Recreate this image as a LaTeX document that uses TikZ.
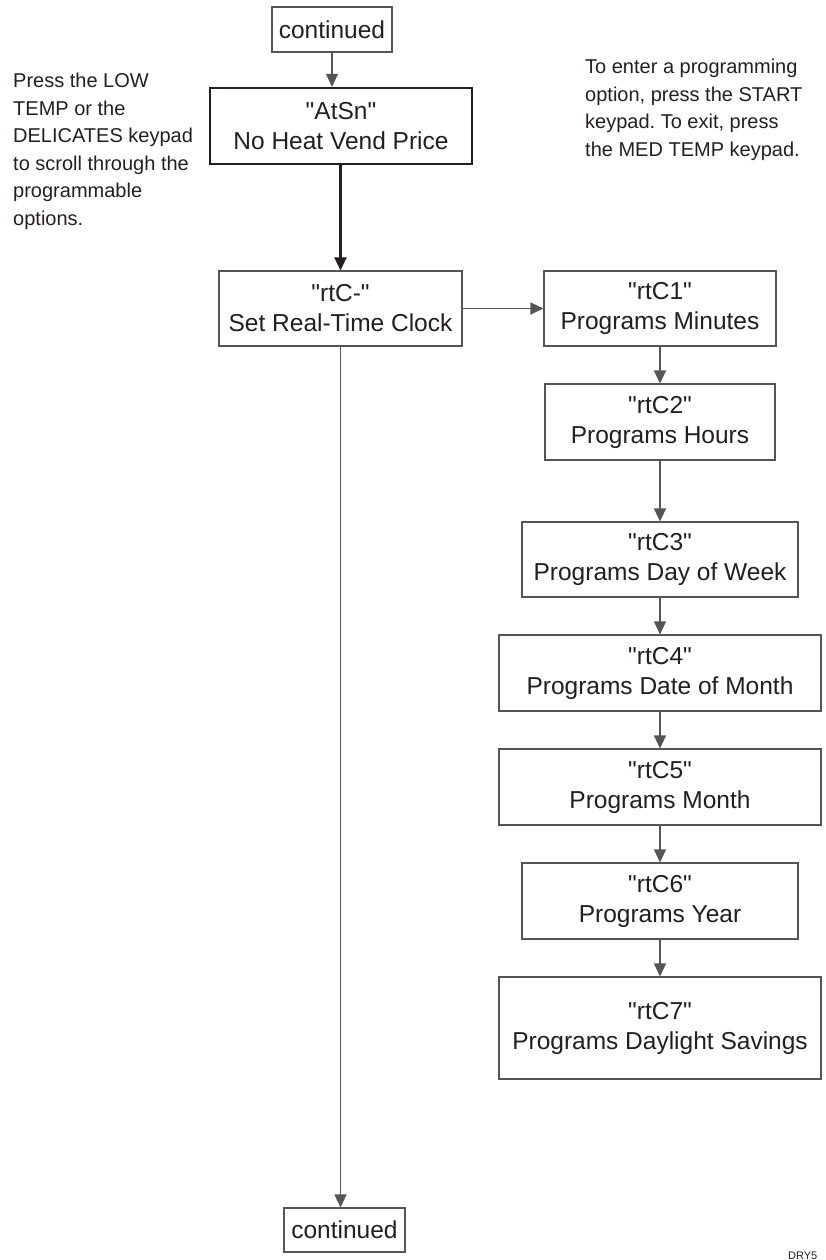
\documentclass[tikz,border=0pt]{standalone}
\usepackage{fontspec}
\setmainfont{Liberation Sans}
\newfontfamily\plainsans{Liberation Sans}
\usetikzlibrary{arrows.meta}
\definecolor{ink}{HTML}{231F20}
\definecolor{edge}{HTML}{555555}
\begin{document}
\frenchspacing
\begin{tikzpicture}[x=1pt,y=-1pt,
  box/.style={draw=edge,line width=1.1pt,fill=white,align=center,inner sep=0pt,
    font=\plainsans\fontsize{24.5}{30}\selectfont,text=ink},
  thickbox/.style={box,draw=ink,line width=2.2pt},
  flow/.style={draw=edge,line width=1.2pt,-{Triangle[width=12pt,length=13pt]},color=edge},
  thickflow/.style={flow,draw=ink,line width=2.2pt},
  note/.style={align=left,inner sep=0pt,font=\plainsans\fontsize{20}{27.5}\selectfont,text=ink}]
\useasboundingbox (0,0) rectangle (825,1260);

\node[box,minimum width=120pt,minimum height=45pt] (cont1) at (332,29.5) {continued};
\node[thickbox,minimum width=262pt,minimum height=76pt] (atsn) at (341,126) {"AtSn"\\No Heat Vend Price};
\node[box,minimum width=243pt,minimum height=75pt] (rtc0) at (340.5,308.5) {"rtC-"\\Set Real-Time Clock};
\node[box,minimum width=232pt,minimum height=75pt] (rtc1) at (660,308.5) {"rtC1"\\Programs Minutes};
\node[box,minimum width=230pt,minimum height=76pt] (rtc2) at (660,422) {"rtC2"\\Programs Hours};
\node[box,minimum width=276pt,minimum height=75pt] (rtc3) at (660,559.5) {"rtC3"\\Programs Day of Week};
\node[box,minimum width=322pt,minimum height=76pt] (rtc4) at (660,673) {"rtC4"\\Programs Date of Month};
\node[box,minimum width=322pt,minimum height=76pt] (rtc5) at (660,787) {"rtC5"\\Programs Month};
\node[box,minimum width=276pt,minimum height=76pt] (rtc6) at (660,901) {"rtC6"\\Programs Year};
\node[box,minimum width=322pt,minimum height=102pt] (rtc7) at (660,1028) {"rtC7"\\Programs Daylight Savings};
\node[box,minimum width=121pt,minimum height=44pt] (cont2) at (344.5,1230) {continued};

\node[note,anchor=north west] (leftnote) at (13,73) {Press the LOW\\TEMP or the\\DELICATES keypad\\to scroll through the\\programmable\\options.};
\node[note,anchor=north west] (rightnote) at (585,59) {To enter a programming\\option, press the START\\keypad. To exit, press\\the MED TEMP keypad.};
\node[anchor=base west,inner sep=0pt,font=\plainsans\fontsize{11}{13}\selectfont,text=ink] (code) at (788,1259) {DRY5};

\draw[flow] (cont1.south) -- (cont1.south |- atsn.north);
\draw[thickflow] (atsn.south -| rtc0.south) -- (rtc0.north);
\draw[flow] (rtc0.east) -- (rtc1.west);
\draw[flow] (rtc0.south) -- (rtc0.south |- cont2.north);
\draw[flow] (rtc1.south) -- (rtc2.north);
\draw[flow] (rtc2.south) -- (rtc3.north);
\draw[flow] (rtc3.south) -- (rtc4.north);
\draw[flow] (rtc4.south) -- (rtc5.north);
\draw[flow] (rtc5.south) -- (rtc6.north);
\draw[flow] (rtc6.south) -- (rtc7.north);
\end{tikzpicture}
\end{document}
